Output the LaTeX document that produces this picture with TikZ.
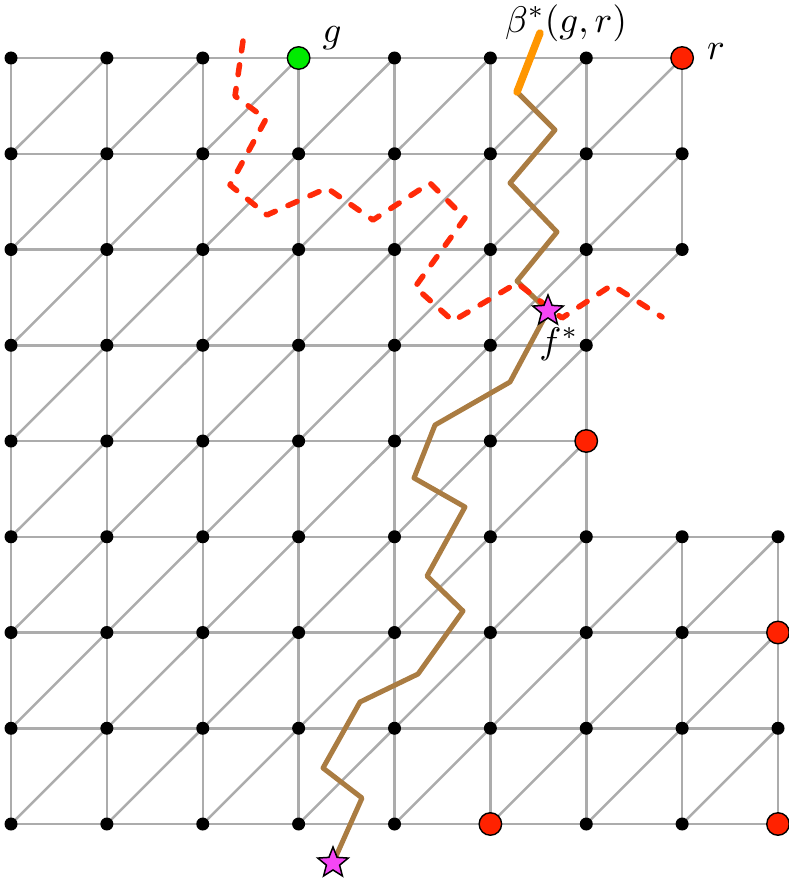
\documentclass[tikz,border=0pt]{standalone}
\usetikzlibrary{shapes.geometric}
\definecolor{gridgray}{RGB}{172,172,172}
\definecolor{pathbrown}{RGB}{170,124,66}
\definecolor{pathorange}{RGB}{255,150,0}
\definecolor{dashred}{RGB}{255,42,8}
\definecolor{nodered}{RGB}{255,34,0}
\definecolor{nodegreen}{RGB}{0,235,0}
\definecolor{starmag}{RGB}{245,70,245}
\begin{document}
\begin{tikzpicture}[x=1pt,y=-1pt,
  gridline/.style={draw=gridgray, line width=2.5pt},
  blackdot/.style={circle, fill=black, inner sep=0pt, minimum size=13pt},
  reddot/.style={circle, fill=nodered, draw=black, line width=1.4pt, inner sep=0pt, minimum size=22.5pt},
  greendot/.style={reddot, fill=nodegreen},
  starnode/.style={star, star points=5, star point ratio=2.3, minimum size=32pt, inner sep=0pt, fill=starmag, draw=black, line width=1.5pt},
  brownpath/.style={draw=pathbrown, line width=5pt, line join=round},
  orangepath/.style={draw=pathorange, line width=7.5pt, line cap=round},
  redpath/.style={draw=dashred, line width=5.5pt, line join=round, line cap=round, dash pattern=on 10pt off 14pt},
  lbl/.style={scale=3.7, inner sep=0pt}
]
\useasboundingbox (0,0) rectangle (789,883);
% coordinates of the lattice
\foreach \r/\m in {0/7,1/7,2/7,3/6,4/6,5/8,6/8,7/8,8/8}{
  \foreach \c in {0,...,\m}{
    \coordinate (p-\c-\r) at ({11+95.875*\c},{58+95.75*\r});
  }
}
% horizontal edges
\foreach \r/\m in {0/6,1/6,2/6,3/5,4/5,5/7,6/7,7/7,8/7}{
  \foreach \c in {0,...,\m}{
    \pgfmathtruncatemacro\n{\c+1}
    \draw[gridline] (p-\c-\r) -- (p-\n-\r);
  }
}
% vertical and diagonal edges
\foreach \r/\vm/\dm in {0/7/6,1/7/6,2/6/6,3/6/5,4/6/5,5/8/7,6/8/7,7/8/7}{
  \pgfmathtruncatemacro\s{\r+1}
  \foreach \c in {0,...,\vm}{
    \draw[gridline] (p-\c-\r) -- (p-\c-\s);
  }
  \foreach \c in {0,...,\dm}{
    \pgfmathtruncatemacro\n{\c+1}
    \draw[gridline] (p-\c-\s) -- (p-\n-\r);
  }
}
% black vertices
\foreach \r/\m in {0/7,1/7,2/7,3/6,4/6,5/8,6/8,7/8,8/8}{
  \foreach \c in {0,...,\m}{
    \pgfmathtruncatemacro\k{100*\c+\r}
    \def\isspecial{0}
    \ifnum\k=300 \def\isspecial{1}\fi
    \ifnum\k=700 \def\isspecial{1}\fi
    \ifnum\k=604 \def\isspecial{1}\fi
    \ifnum\k=806 \def\isspecial{1}\fi
    \ifnum\k=508 \def\isspecial{1}\fi
    \ifnum\k=808 \def\isspecial{1}\fi
    \ifnum\isspecial=0
      \node[blackdot] (v-\c-\r) at (p-\c-\r) {};
    \fi
  }
}
% paths
\coordinate (ostart) at (540,33);
\coordinate (bstart) at (517,92);
\coordinate (fs) at (548,311);
\coordinate (bs) at (333,863);
\coordinate (rstart) at (243,41);
\coordinate (rend) at (662,317);
\draw[brownpath] (bstart) -- (555,130) -- (510,183) -- (557,232) -- (517,281) -- (fs)
  -- (510,382) -- (435,425) -- (414,478) -- (465,507) -- (427,576) -- (463,611)
  -- (418,674) -- (360,702) -- (323,768) -- (362,798) -- (bs);
\draw[orangepath] (ostart) -- (bstart);
\draw[redpath] (rstart) -- (235,96) -- (266,119) -- (230,185) -- (267,215) -- (327,188)
  -- (373,220) -- (430,183) -- (465,218) -- (415,287) -- (453,321) -- (517,283)
  -- (562,318) -- (612,285) -- (rend);
% stars
\node[starnode] (fstar) at (fs) {};
\node[starnode] (bstar) at (bs) {};
% special vertices
\node[greendot] (g) at (p-3-0) {};
\node[reddot] (r) at (p-7-0) {};
\node[reddot] (r1) at (p-6-4) {};
\node[reddot] (r2) at (p-8-6) {};
\node[reddot] (r3) at (p-5-8) {};
\node[reddot] (r4) at (p-8-8) {};
% labels
\node[lbl] (glabel) at (332,38) {$g$};
\node[lbl] (rlabel) at (716,52) {$r$};
\node[lbl] (blabel) at (566,23) {$\beta^*(g,r)$};
\node[lbl] (flabel) at (559,344) {$f^*$};
\end{tikzpicture}
\end{document}
